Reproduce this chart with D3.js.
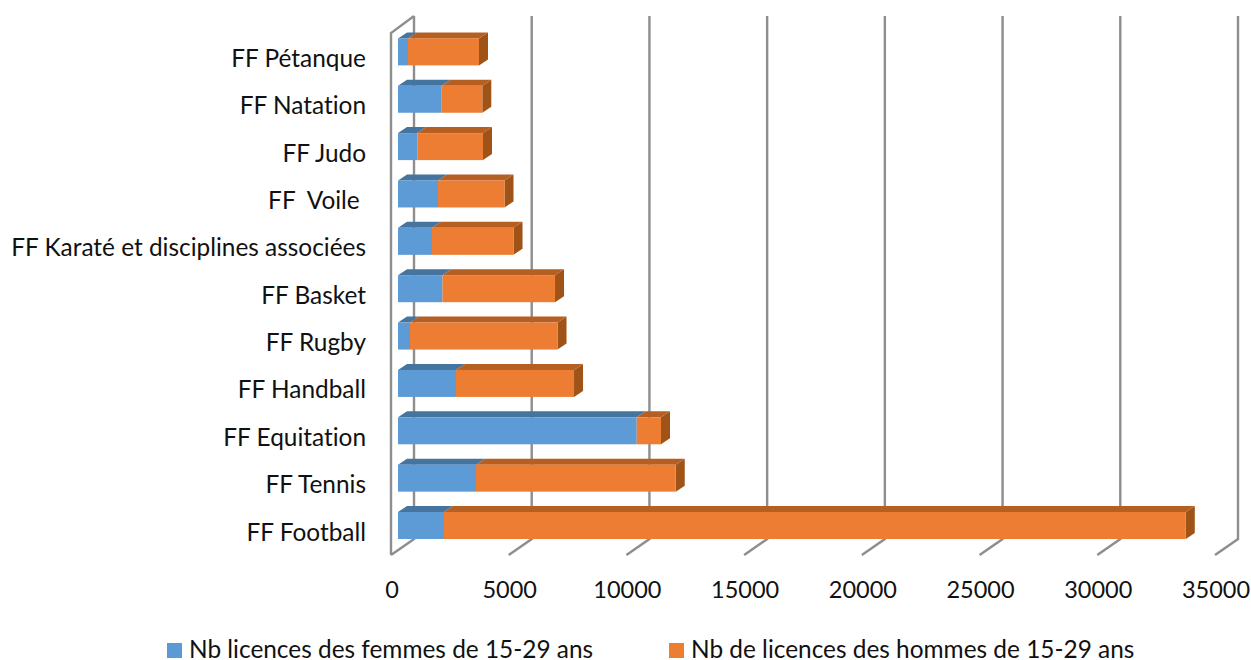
<!DOCTYPE html>
<html><head><meta charset="utf-8">
<script src="https://cdnjs.cloudflare.com/ajax/libs/d3/7.8.5/d3.min.js"></script>
<style>html,body{margin:0;padding:0;background:#fff}svg{display:block}text{font-family:Lato,Roboto,sans-serif;fill:#111;font-variant-ligatures:none}</style>
</head><body><svg id="c" width="1251" height="660"></svg>
<script>
const categories=["FF Pétanque","FF Natation","FF Judo","FF  Voile ","FF Karaté et disciplines associées","FF Basket","FF Rugby","FF Handball","FF Equitation","FF Tennis","FF Football"];
const femmes=[425,1856,820,1700,1444,1890,510,2464,10140,3313,1954];
const hommes=[3016,1725,2790,2824,3463,4780,6266,5013,1032,8484,31508];
const tickValues=[0,5000,10000,15000,20000,25000,30000,35000];
const seriesNames=["Nb licences des femmes de 15-29 ans","Nb de licences des hommes de 15-29 ans"];
const colors=["#5b9bd5","#ed7d31"], topColors=["#44759f","#b55e23"], sideColor="#9f5219";

const svg=d3.select("#c");
const defs=svg.append("defs");
defs.append("filter").attr("id","soft").attr("x","-5%").attr("y","-5%").attr("width","110%").attr("height","110%")
 .append("feGaussianBlur").attr("stdDeviation",0.45);
const x=d3.scaleLinear().domain([0,35000]).range([398,1222]);
const y=d3.scaleBand().domain(categories).range([28.2,549.2]).paddingInner(0.43).paddingOuter(0.215);
const dx=9,dy=6;           // bar depth
const backX=16,frontX=-7;  // wall / floor offset from the bar origin
const backTop=16,backBottom=539,frontBottom=555,leftTop=33;
const g=svg.append("g").attr("filter","url(#soft)");
const grid="#8e8e8e";
// walls and floor
g.selectAll("path.grid").data(tickValues).join("path").attr("class","grid")
 .attr("d",v=>`M${x(v)+backX},${backTop}V${backBottom}L${x(v)+frontX},${frontBottom}`)
 .attr("fill","none").attr("stroke",grid).attr("stroke-width",2.4);
g.append("path").attr("d",`M${x(0)+frontX},${frontBottom}V${leftTop}L${x(0)+backX},${backTop}`)
 .attr("fill","none").attr("stroke",grid).attr("stroke-width",2.4);
// bars
const stack=categories.map((c,i)=>({c,f:femmes[i],t:femmes[i]+hommes[i]}));
const bars=g.selectAll("g.bar").data(stack).join("g").attr("class","bar");
const para=(a,b,t)=>`M${a},${t}L${a+dx},${t-dy}H${b+dx}L${b},${t}Z`;
bars.append("path").attr("d",d=>`M${x(d.t)},${y(d.c)}L${x(d.t)+dx},${y(d.c)-dy}V${y(d.c)+y.bandwidth()-dy}L${x(d.t)},${y(d.c)+y.bandwidth()}Z`).attr("fill",sideColor);
bars.append("path").attr("d",d=>para(x(0),x(d.f),y(d.c))).attr("fill",topColors[0]);
bars.append("path").attr("d",d=>para(x(d.f),x(d.t),y(d.c))).attr("fill",topColors[1]);
bars.append("rect").attr("x",x(0)).attr("y",d=>y(d.c)).attr("width",d=>x(d.f)-x(0)).attr("height",y.bandwidth()).attr("fill",colors[0]);
bars.append("rect").attr("x",d=>x(d.f)).attr("y",d=>y(d.c)).attr("width",d=>x(d.t)-x(d.f)).attr("height",y.bandwidth()).attr("fill",colors[1]);
// labels
svg.selectAll("text.cat").data(categories).join("text").attr("class","cat")
 .attr("x",366).attr("y",d=>y(d)+y.bandwidth()/2+15).attr("text-anchor","end")
 .style("white-space","pre").attr("font-size",24.4).text(d=>d);
svg.selectAll("text.tick").data(tickValues).join("text").attr("class","tick")
 .attr("x",v=>x(v)+frontX+1).attr("y",598).attr("text-anchor","middle").attr("font-size",23.5).text(v=>v);
// legend
const lx=[167,669], tx=[189,691];
seriesNames.forEach((s,i)=>{
 svg.append("rect").attr("x",lx[i]).attr("y",643).attr("width",15).attr("height",15).attr("fill",colors[i]);
 svg.append("text").attr("x",tx[i]).attr("y",658).attr("font-size",24.4).text(s);
});
</script></body></html>
